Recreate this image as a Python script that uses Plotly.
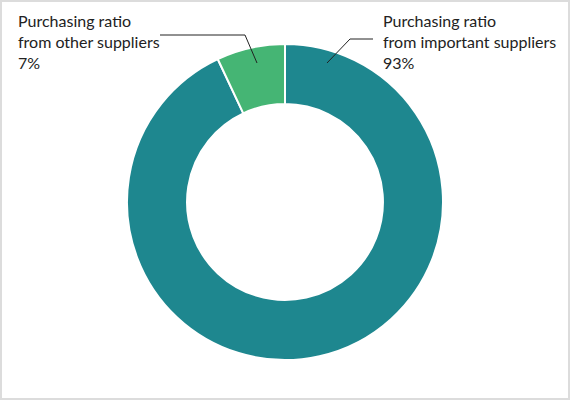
import plotly.graph_objects as go

labels = ["Purchasing ratio<br>from important suppliers", "Purchasing ratio<br>from other suppliers"]
values = [93, 7]
pct_text = ["93%", "7%"]
colors = ["#1E878F", "#45B574"]

W, H = 570, 400

def px(x):
    return x / W

def py(y):
    return 1 - y / H

fig = go.Figure(go.Pie(
    labels=labels,
    values=values,
    hole=0.62,
    sort=False,
    direction="clockwise",
    rotation=0,
    textinfo="none",
    hoverinfo="label+percent",
    marker=dict(colors=colors, line=dict(color="white", width=2)),
    domain=dict(x=[0, 1], y=[40 / H, 1 - 44 / H]),
    showlegend=False,
))

font = dict(family="Lato, 'Noto Sans', sans-serif", size=16, color="#222222")

# labels
fig.add_annotation(x=px(381), y=py(41), xref="paper", yref="paper",
                   text=labels[0] + "<br>" + pct_text[0], showarrow=False,
                   xanchor="left", yanchor="middle", align="left", font=font)
fig.add_annotation(x=px(16), y=py(41), xref="paper", yref="paper",
                   text=labels[1] + "<br>" + pct_text[1], showarrow=False,
                   xanchor="left", yanchor="middle", align="left", font=font)

# leader lines
fig.add_shape(type="path", xref="paper", yref="paper",
              path=f"M {px(327)},{py(63)} L {px(350)},{py(39)} L {px(373)},{py(39)}",
              line=dict(color="#222222", width=1))
fig.add_shape(type="path", xref="paper", yref="paper",
              path=f"M {px(160)},{py(35)} L {px(245)},{py(35)} L {px(257)},{py(63)}",
              line=dict(color="#222222", width=1))

# border
fig.add_shape(type="rect", xref="paper", yref="paper",
              x0=px(1), x1=px(569), y0=py(399), y1=py(1),
              line=dict(color="#dcdcdc", width=2), fillcolor="rgba(0,0,0,0)")

fig.update_layout(
    width=W, height=H,
    margin=dict(l=0, r=0, t=0, b=0),
    paper_bgcolor="white",
    plot_bgcolor="white",
)

fig.write_html("out.html", config={"displayModeBar": False},
               post_script="document.body.style.margin='0';document.body.style.padding='0';")
